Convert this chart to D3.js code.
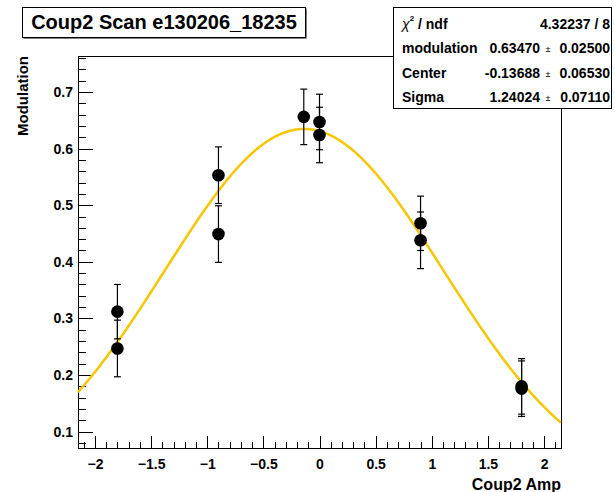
<!DOCTYPE html>
<html>
<head>
<meta charset="utf-8">
<script src="https://cdn.jsdelivr.net/npm/d3@7"></script>
<style>
  body { margin: 0; background: #fff; }
  text { font-family: "Liberation Sans", Arial, sans-serif; font-weight: bold; fill: #000; }
</style>
</head>
<body>
<div id="chart"></div>
<script>
// measured points (x = Coup2 Amp, y = modulation, yErr = error bar half length)
var xVals = [-1.8, -1.8, -0.9, -0.9, -0.14, 0, 0, 0.9, 0.9, 1.8, 1.8];
var yVals = [0.312, 0.247, 0.553, 0.449, 0.656, 0.647, 0.624, 0.468, 0.438, 0.180, 0.176];
var yErrs = [0.048, 0.050, 0.050, 0.050, 0.049, 0.049, 0.049, 0.048, 0.050, 0.049, 0.049];

// fit result (gaussian) shown in the stats box
var parNames = ["modulation", "Center", "Sigma"];
var parValues = [0.63470, -0.13688, 1.24024];
var parErrors = [0.02500, 0.06530, 0.07110];
var chi2 = "4.32237";
var ndf = 8;

// axis ticks
var xMajor = [-2, -1.5, -1, -0.5, 0, 0.5, 1, 1.5, 2];
var yMajor = [0.1, 0.2, 0.3, 0.4, 0.5, 0.6, 0.7];

var svgWidth = 615;
var svgHeight = 492;

var margin = {
  top: 56,
  right: 54,
  bottom: 44,
  left: 78
};

var width = svgWidth - margin.left - margin.right;
var height = svgHeight - margin.top - margin.bottom;

var svg = d3.select("#chart")
  .append("svg")
  .attr("width", svgWidth)
  .attr("height", svgHeight);

var chartGroup = svg.append("g")
  .attr("transform", `translate(${margin.left}, ${margin.top})`);

var xLinearScale = d3.scaleLinear()
  .domain([-2.151, 2.151])
  .range([0, width]);

var yLinearScale = d3.scaleLinear()
  .domain([0.0712, 0.7635])
  .range([height, 0]);

// frame
chartGroup.append("rect")
  .attr("width", width)
  .attr("height", height)
  .attr("fill", "none")
  .attr("stroke", "#000")
  .attr("shape-rendering", "crispEdges");

// minor ticks, no labels
var xMinor = d3.range(-21, 22).map(d => d / 10);
var yMinor = d3.range(4, 39).map(d => d / 50);

chartGroup.append("g")
  .attr("transform", `translate(0, ${height})`)
  .call(d3.axisBottom(xLinearScale).tickValues(xMinor).tickSize(-6).tickFormat(""))
  .call(g => g.select(".domain").remove());

chartGroup.append("g")
  .call(d3.axisLeft(yLinearScale).tickValues(yMinor).tickSize(-7.5).tickFormat(""))
  .call(g => g.select(".domain").remove());

// major ticks with labels
var bottomAxis = d3.axisBottom(xLinearScale)
  .tickValues(xMajor)
  .tickSize(-12)
  .tickPadding(11)
  .tickFormat(d3.format("~g"));

var leftAxis = d3.axisLeft(yLinearScale)
  .tickValues(yMajor)
  .tickSize(-14.5)
  .tickPadding(5)
  .tickFormat(d3.format(".1f"));

chartGroup.append("g")
  .attr("transform", `translate(0, ${height})`)
  .call(bottomAxis)
  .call(g => g.select(".domain").remove());

chartGroup.append("g")
  .call(leftAxis)
  .call(g => g.select(".domain").remove());

chartGroup.selectAll(".tick line")
  .attr("stroke", "#000")
  .attr("shape-rendering", "crispEdges");

chartGroup.selectAll(".tick text")
  .style("font-size", "14px");

// fit curve from the fitted parameters
var curveX = d3.range(-2.151, 2.152, 0.01);
var fitLine = d3.line()
  .x(d => xLinearScale(d))
  .y(d => yLinearScale(parValues[0] * Math.exp(-0.5 * Math.pow((d - parValues[1]) / parValues[2], 2))));

chartGroup.append("path")
  .datum(curveX)
  .attr("d", fitLine)
  .attr("fill", "none")
  .attr("stroke", "#f8c600")
  .attr("stroke-width", 2.5);

// error bars
var points = xVals.map((x, i) => ({ x: x, y: yVals[i], e: yErrs[i] }));

var errGroup = chartGroup.append("g")
  .attr("stroke", "#000")
  .attr("stroke-width", 1.2);

errGroup.selectAll(".ebar")
  .data(points)
  .enter()
  .append("line")
  .attr("x1", d => xLinearScale(d.x))
  .attr("x2", d => xLinearScale(d.x))
  .attr("y1", d => yLinearScale(d.y - d.e))
  .attr("y2", d => yLinearScale(d.y + d.e));

errGroup.selectAll(".capTop")
  .data(points)
  .enter()
  .append("line")
  .attr("x1", d => xLinearScale(d.x) - 3.5)
  .attr("x2", d => xLinearScale(d.x) + 3.5)
  .attr("y1", d => yLinearScale(d.y + d.e))
  .attr("y2", d => yLinearScale(d.y + d.e));

errGroup.selectAll(".capBottom")
  .data(points)
  .enter()
  .append("line")
  .attr("x1", d => xLinearScale(d.x) - 3.5)
  .attr("x2", d => xLinearScale(d.x) + 3.5)
  .attr("y1", d => yLinearScale(d.y - d.e))
  .attr("y2", d => yLinearScale(d.y - d.e));

// markers
chartGroup.selectAll("circle")
  .data(points)
  .enter()
  .append("circle")
  .attr("cx", d => xLinearScale(d.x))
  .attr("cy", d => yLinearScale(d.y))
  .attr("r", 6.3)
  .attr("fill", "#000");

// axis titles
chartGroup.append("text")
  .attr("x", width)
  .attr("y", height + 42)
  .attr("text-anchor", "end")
  .style("font-size", "16px")
  .text("Coup2 Amp");

chartGroup.append("text")
  .attr("transform", "rotate(-90)")
  .attr("x", 0)
  .attr("y", 0 - margin.left + 28)
  .attr("text-anchor", "end")
  .style("font-size", "15px")
  .text("Modulation");

// title box
svg.append("rect")
  .attr("x", 23.5)
  .attr("y", 8.5)
  .attr("width", 283)
  .attr("height", 30)
  .attr("fill", "#000");

svg.append("rect")
  .attr("x", 22.5)
  .attr("y", 7.5)
  .attr("width", 283)
  .attr("height", 30)
  .attr("fill", "#fff")
  .attr("stroke", "#000");

svg.append("text")
  .attr("x", 164)
  .attr("y", 29)
  .attr("text-anchor", "middle")
  .style("font-size", "20px")
  .text("Coup2 Scan e130206_18235");

// stats box
var statsGroup = svg.append("g");

statsGroup.append("rect")
  .attr("x", 393.5)
  .attr("y", 7.5)
  .attr("width", 218)
  .attr("height", 101)
  .attr("fill", "#fff")
  .attr("stroke", "#000");

var rowY = [28.5, 53, 77.5, 101.5];

var chiLabel = statsGroup.append("text")
  .attr("x", 402)
  .attr("y", rowY[0])
  .style("font-size", "14px");
chiLabel.append("tspan")
  .style("font-weight", "normal")
  .style("font-style", "italic")
  .text("\u03c7");
chiLabel.append("tspan")
  .attr("dy", -8)
  .style("font-size", "8px")
  .text("2");
chiLabel.append("tspan")
  .attr("dy", 8)
  .text(" / ndf");

statsGroup.append("text")
  .attr("x", 610)
  .attr("y", rowY[0])
  .attr("text-anchor", "end")
  .style("font-size", "14px")
  .text(`${chi2} / ${ndf}`);

parNames.forEach(function(name, i) {
  statsGroup.append("text")
    .attr("x", 402)
    .attr("y", rowY[i + 1])
    .style("font-size", "14px")
    .text(name);

  statsGroup.append("text")
    .attr("x", 540)
    .attr("y", rowY[i + 1])
    .attr("text-anchor", "end")
    .style("font-size", "14px")
    .text(parValues[i].toFixed(5));

  statsGroup.append("text")
    .attr("x", 548)
    .attr("y", rowY[i + 1] - 1)
    .attr("text-anchor", "middle")
    .style("font-size", "9px")
    .style("font-weight", "normal")
    .text("\u00b1");

  statsGroup.append("text")
    .attr("x", 610)
    .attr("y", rowY[i + 1])
    .attr("text-anchor", "end")
    .style("font-size", "14px")
    .text(parErrors[i].toFixed(5));
});
</script>
</body>
</html>
